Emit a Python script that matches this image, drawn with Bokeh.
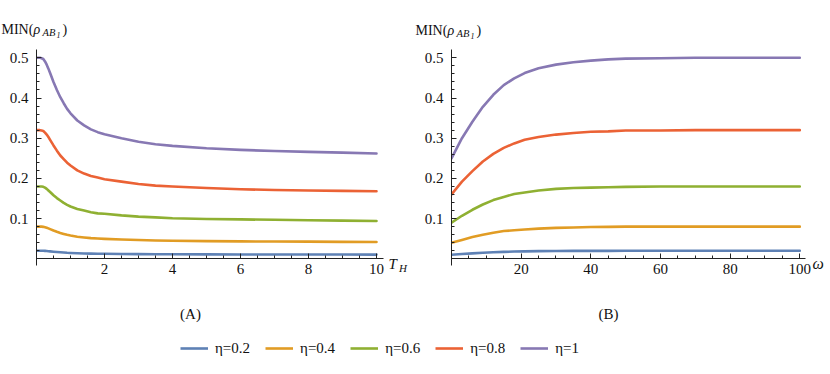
from bokeh.plotting import figure
from bokeh.models import FixedTicker, Label, Legend, LegendItem
from bokeh.layouts import row, column
from bokeh.embed import file_html
from bokeh.resources import INLINE

FONT = "Liberation Serif"

series_labels = ["η=0.2", "η=0.4", "η=0.6", "η=0.8", "η=1"]
series_colors = ["#5E81B5", "#E19C24", "#8FB032", "#EB6235", "#8778B3"]

# Panel (A): MIN(rho) versus T_H
t_h = [0, 0.1, 0.15, 0.2, 0.25, 0.3, 0.35, 0.4, 0.5, 0.6, 0.7, 0.8, 0.9, 1.0,
       1.2, 1.4, 1.6, 1.8, 2.0, 2.5, 3.0, 3.5, 4, 5, 6, 7, 8, 9, 10]
a_eta02 = [0.020, 0.020, 0.020, 0.0199, 0.0196, 0.0193, 0.0189, 0.0185, 0.0176, 0.0168,
           0.0161, 0.0155, 0.0149, 0.0145, 0.0138, 0.0133, 0.0129, 0.0126, 0.0124, 0.0120,
           0.0116, 0.0114, 0.0112, 0.0110, 0.0108, 0.0107, 0.0106, 0.0106, 0.0105]
a_eta04 = [0.080, 0.080, 0.080, 0.0795, 0.0786, 0.0773, 0.0757, 0.0739, 0.0704, 0.0672,
           0.0643, 0.0619, 0.0597, 0.0579, 0.0550, 0.0531, 0.0515, 0.0504, 0.0496, 0.0480,
           0.0466, 0.0456, 0.0450, 0.0440, 0.0434, 0.0429, 0.0426, 0.0422, 0.0419]
a_eta06 = [0.180, 0.180, 0.180, 0.179, 0.177, 0.174, 0.170, 0.166, 0.158, 0.151,
           0.145, 0.139, 0.134, 0.130, 0.124, 0.120, 0.116, 0.113, 0.112, 0.108,
           0.105, 0.103, 0.101, 0.099, 0.098, 0.097, 0.096, 0.095, 0.094]
a_eta08 = [0.320, 0.320, 0.319, 0.318, 0.314, 0.309, 0.303, 0.296, 0.282, 0.269,
           0.257, 0.248, 0.239, 0.232, 0.220, 0.212, 0.206, 0.202, 0.198, 0.192,
           0.186, 0.182, 0.180, 0.176, 0.173, 0.171, 0.170, 0.169, 0.168]
a_eta10 = [0.500, 0.500, 0.499, 0.497, 0.491, 0.483, 0.473, 0.462, 0.440, 0.420,
           0.402, 0.387, 0.373, 0.362, 0.344, 0.332, 0.322, 0.315, 0.310, 0.300,
           0.291, 0.285, 0.281, 0.275, 0.271, 0.268, 0.266, 0.264, 0.262]

# Panel (B): MIN(rho) versus omega
omega = [0, 3, 6, 9, 12, 15, 18, 21, 25, 30, 35, 40, 45, 50, 60, 70, 80, 90, 100]
b_eta02 = [0.010, 0.012, 0.0136, 0.0151, 0.0163, 0.0173, 0.0180, 0.0185, 0.0190, 0.0193,
           0.0196, 0.0197, 0.0198, 0.0199, 0.020, 0.020, 0.020, 0.020, 0.020]
b_eta04 = [0.040, 0.047, 0.054, 0.060, 0.065, 0.069, 0.071, 0.073, 0.075, 0.077,
           0.078, 0.079, 0.0795, 0.080, 0.080, 0.080, 0.080, 0.080, 0.080]
b_eta06 = [0.090, 0.107, 0.122, 0.135, 0.146, 0.154, 0.161, 0.165, 0.170, 0.174,
           0.176, 0.177, 0.178, 0.179, 0.180, 0.180, 0.180, 0.180, 0.180]
b_eta08 = [0.160, 0.192, 0.218, 0.242, 0.261, 0.276, 0.287, 0.296, 0.303, 0.309,
           0.313, 0.316, 0.317, 0.319, 0.319, 0.320, 0.320, 0.320, 0.320]
b_eta10 = [0.250, 0.300, 0.341, 0.378, 0.408, 0.432, 0.449, 0.462, 0.474, 0.483,
           0.489, 0.493, 0.496, 0.498, 0.499, 0.500, 0.500, 0.500, 0.500]

y_major = [0.1, 0.2, 0.3, 0.4, 0.5]
a_x_major = [2, 4, 6, 8, 10]
b_x_major = [20, 40, 60, 80, 100]

# page geometry (pixels, page origin at top-left)
TOP_H = 40          # strip holding the y-axis captions
FRAME_BOTTOM = 306  # page y of the lower edge of each plot frame
BOT_B = 40          # reserved room under each frame (x-axis panel)
PANEL_H = FRAME_BOTTOM - TOP_H + BOT_B
ZERO_Y = 258.3      # page y of value 0
PPY = 402.0         # pixels per unit on y
TOTAL_W = 830
STRIP_TOP = 298     # bottom strip (panel tags + legend) starts here
STRIP_H = 60


def text_label(p, text, x, y, size, style="normal", align="left", font=FONT):
    p.add_layout(Label(x=x, y=y, text=text, text_font=font, text_font_size=size,
                       text_font_style=style, text_align=align,
                       text_baseline="alphabetic", text_color="#111111"))


def panel(xs, ys_list, fig_left, width, zero_x, ppx, x_axis_end, x_major, x_step,
          xvar, xsub):
    bl = zero_x - fig_left
    x_end = (width - bl) / ppx
    y_end = (ZERO_Y - TOP_H) / PPY
    y_start = (ZERO_Y - FRAME_BOTTOM) / PPY
    p = figure(width=width, height=PANEL_H, x_range=(0, x_end),
               y_range=(y_start, y_end), output_backend="svg", toolbar_location=None,
               min_border_left=int(bl), min_border_right=0,
               min_border_top=0, min_border_bottom=BOT_B)
    p.grid.visible = False
    p.outline_line_color = None
    p.border_fill_alpha = 0
    for ys, c in zip(ys_list, series_colors):
        p.line(xs, ys, line_color=c, line_width=2.6, line_join="round", line_cap="round")
    n_minor = int(round(x_axis_end / x_step))
    p.xaxis.ticker = FixedTicker(ticks=x_major,
                                 minor_ticks=[x_step * i for i in range(1, n_minor + 1)])
    p.yaxis.ticker = FixedTicker(ticks=y_major,
                                 minor_ticks=[0.02 * i for i in range(1, 26)])
    p.xaxis.fixed_location = 0
    p.xaxis.bounds = (0, x_axis_end)
    p.yaxis.bounds = (-0.017, 0.52)
    for ax in (p.xaxis[0], p.yaxis[0]):
        ax.axis_line_color = "#222222"
        ax.major_tick_line_color = "#222222"
        ax.minor_tick_line_color = "#222222"
        ax.major_tick_in = 5
        ax.major_tick_out = 0
        ax.minor_tick_in = 3
        ax.minor_tick_out = 0
        ax.major_label_text_font = FONT
        ax.major_label_text_font_size = "15px"
        ax.major_label_text_color = "#111111"
    p.yaxis.major_label_standoff = 8
    p.xaxis.major_label_standoff = 5

    def dx(px):
        return (px - zero_x) / ppx

    def dy(py):
        return (ZERO_Y - py) / PPY

    if xsub:
        text_label(p, xvar, dx(388), dy(263), "15px", "italic")
        text_label(p, xsub, dx(398.5), dy(267), "11px", "italic")
    else:
        text_label(p, xvar, dx(812), dy(263), "16px", "italic")
    return p


pa = panel(t_h, [a_eta02, a_eta04, a_eta06, a_eta08, a_eta10],
           0, 408, 36.0, 34.0, 10.2, a_x_major, 0.5, "T", "H")
pb = panel(omega, [b_eta02, b_eta04, b_eta06, b_eta08, b_eta10],
           408, TOTAL_W - 408, 451.0, 3.483, 101.5, b_x_major, 5, "ω", None)


def pixel_fig(w, h, **kw):
    f = figure(width=w, height=h, x_range=(0, w), y_range=(0, h),
               x_axis_location=None, y_axis_location=None,
               output_backend="svg", toolbar_location=None,
               min_border_left=0, min_border_right=0, min_border_top=0,
               min_border_bottom=0, **kw)
    f.grid.visible = False
    f.outline_line_color = None
    f.background_fill_alpha = 0
    f.border_fill_alpha = 0
    return f


# caption strip: MIN(rho_{AB_1}) over each panel
top = pixel_fig(TOTAL_W, TOP_H)
for x0, base in ((1, 29), (415, 30)):
    yb = TOP_H - base
    text_label(top, "MIN(", x0, yb, "14px")
    text_label(top, "ρ", x0 + 32, yb, "14px", "italic")
    text_label(top, "AB", x0 + 41, yb - 3, "10.5px", "italic")
    text_label(top, "1", x0 + 55, yb - 5, "8px", "italic")
    text_label(top, ")", x0 + 61, yb, "14px")

# bottom strip: panel tags and legend (pulled up over the empty room under the frames)
overlap = (TOP_H + PANEL_H) - STRIP_TOP
bot = pixel_fig(TOTAL_W, STRIP_H, margin=(-overlap, 0, 0, 0))
text_label(bot, "(A)", 190, STRIP_TOP + STRIP_H - 313, "15px", align="center")
text_label(bot, "(B)", 608, STRIP_TOP + STRIP_H - 313, "15px", align="center")
items = []
for lbl, c in zip(series_labels, series_colors):
    r = bot.line(x=[float("nan")], y=[float("nan")], line_color=c, line_width=2.6)
    items.append(LegendItem(label=lbl, renderers=[r]))
legend = Legend(items=items, orientation="horizontal", location=(180, 0),
                glyph_width=28, glyph_height=20, label_height=20, label_standoff=7,
                spacing=15, padding=0, margin=0, border_line_color=None,
                background_fill_alpha=0, label_text_font=FONT,
                label_text_font_size="15px", label_text_color="#111111")
bot.add_layout(legend)

layout = column(top, row(pa, pb), bot)
open("out.html", "w").write(file_html(layout, INLINE))
